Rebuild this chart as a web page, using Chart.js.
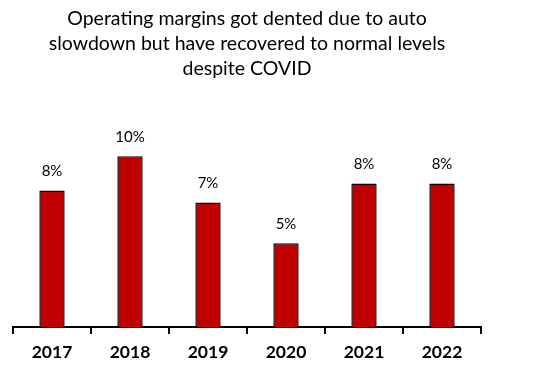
<!DOCTYPE html>
<html>
<head>
<meta charset="utf-8">
<script src="https://cdn.jsdelivr.net/npm/chart.js@4/dist/chart.umd.min.js"></script>
<style>
html,body{margin:0;padding:0;background:#fff;}
#wrap{width:553px;height:391px;position:relative;}
</style>
</head>
<body>
<div id="wrap"><canvas id="c" width="553" height="391"></canvas></div>
<script>
const years = ["2017", "2018", "2019", "2020", "2021", "2022"];
const margins = [8.0, 10.0, 7.3, 4.9, 8.4, 8.4];
const titleLines = ["Operating margins got dented due to auto", "slowdown but have recovered to normal levels", "despite COVID"];

const titlePlugin = {
  id: 'customTitle',
  afterDraw(chart) {
    const ctx = chart.ctx;
    const cx = (chart.chartArea.left + chart.chartArea.right) / 2;
    ctx.save();
    ctx.fillStyle = '#000';
    ctx.font = '19.5px Lato';
    ctx.textAlign = 'center';
    ctx.textBaseline = 'middle';
    titleLines.forEach((t, i) => ctx.fillText(t, cx, 19 + i * 25));
    ctx.restore();
  }
};

const labelPlugin = {
  id: 'barLabels',
  afterDatasetsDraw(chart) {
    const ctx = chart.ctx;
    const meta = chart.getDatasetMeta(0);
    ctx.save();
    ctx.fillStyle = '#000';
    ctx.font = '15px Lato';
    ctx.textAlign = 'center';
    ctx.textBaseline = 'middle';
    meta.data.forEach((bar, i) => {
      ctx.fillText(Math.round(margins[i]) + '%', bar.x, bar.y - 19);
    });
    ctx.restore();
  }
};

new Chart(document.getElementById('c'), {
  type: 'bar',
  data: {
    labels: years,
    datasets: [{
      data: margins,
      backgroundColor: '#C00000',
      borderColor: '#1a0000',
      borderWidth: 1.5,
      borderSkipped: 'bottom',
      categoryPercentage: 1,
      barPercentage: 0.325
    }]
  },
  options: {
    responsive: false,
    animation: false,
    layout: { padding: { left: 13, right: 72, top: 88, bottom: 20 } },
    plugins: { legend: { display: false }, tooltip: { enabled: false }, title: { display: false } },
    scales: {
      x: {
        grid: { display: true, drawOnChartArea: false, drawTicks: true, tickLength: 7, color: '#000', lineWidth: 2, offset: true },
        border: { display: true, color: '#000', width: 2 },
        ticks: { color: '#000', font: { family: 'Lato', size: 17.5, weight: 'bold' }, padding: 8, maxRotation: 0 }
      },
      y: {
        display: false,
        min: 0,
        max: 14
      }
    }
  },
  plugins: [titlePlugin, labelPlugin]
});
</script>
</body>
</html>
